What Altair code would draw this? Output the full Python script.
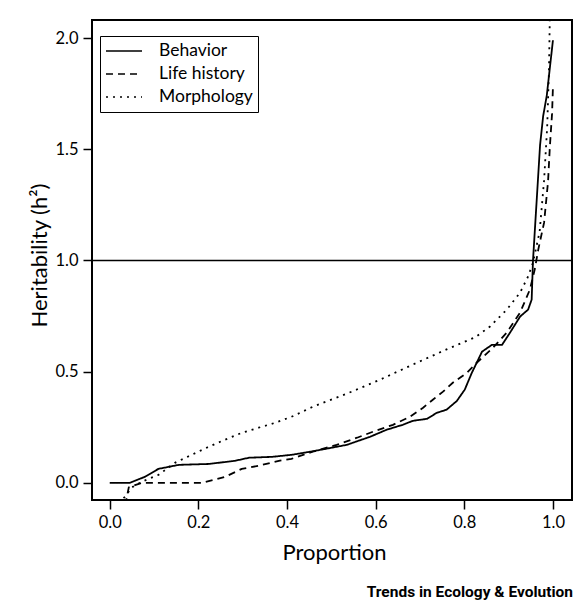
import altair as alt
import pandas as pd

series_names = ["Behavior", "Life history", "Morphology"]

behavior_x = [0.0, 0.045, 0.079, 0.11, 0.156, 0.223, 0.282, 0.314, 0.366, 0.41, 0.458, 0.535,
              0.587, 0.625, 0.661, 0.684, 0.716, 0.738, 0.76, 0.783, 0.801, 0.817, 0.828, 0.84,
              0.862, 0.885, 0.903, 0.926, 0.944, 0.952, 0.955, 0.971, 0.978, 0.986, 1.0]
behavior_y = [0.0, 0.0, 0.027, 0.063, 0.081, 0.085, 0.099, 0.113, 0.117, 0.126, 0.142, 0.171,
              0.207, 0.239, 0.261, 0.279, 0.288, 0.315, 0.329, 0.368, 0.419, 0.495, 0.54, 0.59,
              0.62, 0.62, 0.675, 0.748, 0.779, 0.824, 1.0, 1.52, 1.65, 1.74, 1.99]

life_x = [0.035, 0.043, 0.072, 0.208, 0.26, 0.298, 0.336, 0.384, 0.41, 0.458, 0.512, 0.558,
          0.594, 0.639, 0.677, 0.707, 0.729, 0.752, 0.774, 0.806, 0.828, 0.865, 0.896, 0.926,
          0.948, 0.959, 0.967, 0.98, 0.989, 0.993, 0.998, 1.0]
life_y = [-0.1, -0.02, 0.0, 0.0, 0.027, 0.063, 0.077, 0.1, 0.108, 0.14, 0.171, 0.203,
          0.23, 0.261, 0.297, 0.338, 0.374, 0.41, 0.45, 0.495, 0.54, 0.608, 0.676, 0.766,
          0.869, 0.96, 1.05, 1.17, 1.356, 1.51, 1.66, 1.78]

morph_x = [0.028, 0.032, 0.05, 0.072, 0.11, 0.147, 0.185, 0.223, 0.26, 0.298, 0.336, 0.373,
           0.41, 0.458, 0.535, 0.61, 0.684, 0.76, 0.825, 0.858, 0.896, 0.926, 0.944, 0.955,
           0.97, 0.98, 0.987, 0.991, 0.993]
morph_y = [-0.1, -0.068, -0.02, 0.005, 0.036, 0.09, 0.126, 0.162, 0.194, 0.225, 0.248, 0.27,
           0.297, 0.342, 0.401, 0.464, 0.532, 0.6, 0.655, 0.703, 0.779, 0.856, 0.928, 0.99,
           1.13, 1.36, 1.6, 1.85, 2.1]

ref_level = [1.0]
x_ticks = [0.0, 0.2, 0.4, 0.6, 0.8, 1.0]
y_ticks = [0.0, 0.5, 1.0, 1.5, 2.0]
credit = ["Trends in Ecology & Evolution"]

rows = []
for name, xs, ys in zip(series_names, [behavior_x, life_x, morph_x], [behavior_y, life_y, morph_y]):
    for i, (xv, yv) in enumerate(zip(xs, ys)):
        rows.append({"series": name, "p": xv, "h": yv, "i": i})
df = pd.DataFrame(rows)

FONT = "Lato"
x_scale = alt.Scale(domain=[-0.04, 1.043], nice=False, zero=False)
y_scale = alt.Scale(domain=[-0.077, 2.081], nice=False, zero=False)

lines = alt.Chart(df).mark_line(clip=True, color="black", strokeWidth=1.8, strokeCap="butt").encode(
    x=alt.X("p:Q", scale=x_scale,
            axis=alt.Axis(title="Proportion", values=x_ticks, format=".1f",
                          titleFontSize=22, titleFont=FONT, titleFontWeight="normal",
                          titleColor="black", titleX=242, titleY=59,
                          titleBaseline="alphabetic", titleAlign="center")),
    y=alt.Y("h:Q", scale=y_scale,
            axis=alt.Axis(title="Heritability (h²)", values=y_ticks, format=".1f",
                          titleFontSize=22, titleFont=FONT, titleFontWeight="normal",
                          titleColor="black", titleX=-46, titleY=235,
                          titleBaseline="alphabetic", titleAngle=270, titleAlign="center")),
    strokeDash=alt.StrokeDash(
        "series:N",
        scale=alt.Scale(domain=series_names, range=[[1, 0], [7, 5], [2, 5]]),
        legend=alt.Legend(title=None, orient="none", legendX=8, legendY=16,
                          strokeColor="black", fillColor="white", padding=5,
                          symbolType="stroke", symbolSize=1296, symbolStrokeWidth=1.5,
                          symbolStrokeColor="black", labelFontSize=17.5, labelFont=FONT,
                          labelColor="black", labelOffset=16, clipHeight=20, rowPadding=3),
    ),
    order="i:Q",
)

ref = alt.Chart(pd.DataFrame({"h": ref_level})).mark_rule(color="black", strokeWidth=1.5).encode(
    y=alt.Y("h:Q", scale=y_scale)
)

txt = alt.Chart(pd.DataFrame({"t": credit})).mark_text(
    align="right", baseline="alphabetic", font="Roboto", fontWeight="bold",
    fontSize=15.5, color="black"
).encode(text="t:N", x=alt.value(481), y=alt.value(577))

chart = alt.layer(ref, lines, txt).properties(
    width=480, height=480,
    background="white",
    autosize=alt.AutoSizeParams(type="none"),
    padding={"left": 84, "top": 12, "right": 1, "bottom": 100},
).configure_view(stroke="black", strokeWidth=2).configure_axis(
    grid=False, domain=False, tickSize=9, tickWidth=1.5, tickColor="black",
    labelFontSize=16.5, labelFont=FONT, labelColor="black", labelPadding=5
)

chart.save("out.html", embed_options={"renderer": "svg", "actions": False})
